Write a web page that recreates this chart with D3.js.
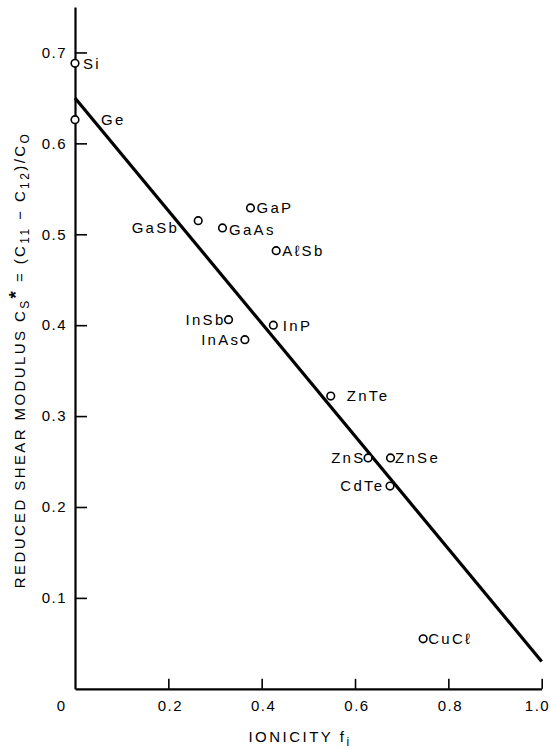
<!DOCTYPE html>
<html>
<head>
<meta charset="utf-8">
<script src="https://cdn.jsdelivr.net/npm/d3@7"></script>
<style>
  html, body { margin: 0; padding: 0; background: #fff; }
  svg { display: block; }
  text { font-family: "Liberation Sans", Arial, sans-serif; fill: #000; }
</style>
</head>
<body>
<div id="chart"></div>
<script>
// ---- data ----
const compounds = ["Si", "Ge", "GaSb", "GaAs", "GaP", "AℓSb", "InSb", "InAs", "InP", "ZnTe", "ZnS", "ZnSe", "CdTe", "CuCℓ"];
const ionicity  = [0.000, 0.000, 0.264, 0.316, 0.376, 0.431, 0.329, 0.364, 0.425, 0.548, 0.628, 0.676, 0.675, 0.746];
const shearMod  = [0.688, 0.626, 0.515, 0.507, 0.529, 0.482, 0.406, 0.384, 0.400, 0.322, 0.254, 0.254, 0.223, 0.055];
const fitX = [0.0, 1.0];
const fitY = [0.650, 0.030];
const xTicks = [0.2, 0.4, 0.6, 0.8, 1.0];
const xTickLabels = ["0.2", "0.4", "0.6", "0.8", "1.0"];
const yTicks = [0.1, 0.2, 0.3, 0.4, 0.5, 0.6, 0.7];
const yTickLabels = ["0.1", "0.2", "0.3", "0.4", "0.5", "0.6", "0.7"];

// ---- label layout (pixel offsets from marker, anchor) ----
const labelLayout = {
  "Si":   [8, 0, "start"],
  "Ge":   [26, 0, "start"],
  "GaSb": [-19, 7, "end"],
  "GaAs": [6.5, 2, "start"],
  "GaP":  [6, 0, "start"],
  "AℓSb": [6, 0, "start"],
  "InSb": [-3, 0, "end"],
  "InAs": [-4.5, 0, "end"],
  "InP":  [9.5, 0, "start"],
  "ZnTe": [16, 0, "start"],
  "ZnS":  [-2.5, 0, "end"],
  "ZnSe": [4.5, 0, "start"],
  "CdTe": [-5.5, 0, "end"],
  "CuCℓ": [5, 0, "start"]
};

const W = 551, H = 749;
const svg = d3.select("#chart").append("svg").attr("width", W).attr("height", H);

const x = d3.scaleLinear().domain([0, 1]).range([75, 541.7]);
const y = d3.scaleLinear().domain([0, 0.75]).range([688.8, 7]);

// x axis
const xAxis = d3.axisBottom(x)
  .tickValues(xTicks)
  .tickFormat((d, i) => xTickLabels[i])
  .tickSizeInner(-10)
  .tickSizeOuter(0)
  .tickPadding(12);
const gx = svg.append("g").attr("transform", `translate(0,${y(0)})`).call(xAxis);
gx.select(".domain").attr("stroke", "#000").attr("stroke-width", 2.2);
gx.selectAll(".tick line").attr("stroke", "#000").attr("stroke-width", 1.6);
gx.selectAll(".tick text")
  .attr("font-size", 15)
  .attr("letter-spacing", "1.5px")
  .attr("text-anchor", (d, i) => i === xTicks.length - 1 ? "end" : "middle")
  .attr("dx", (d, i) => i === xTicks.length - 1 ? "8" : "1.5");

// origin label
svg.append("text")
  .attr("x", x(0) - 14).attr("y", y(0) + 17)
  .attr("dy", "0.36em")
  .attr("text-anchor", "middle")
  .attr("font-size", 15)
  .text("0");

// y axis
const yAxis = d3.axisLeft(y)
  .tickValues(yTicks)
  .tickFormat((d, i) => yTickLabels[i])
  .tickSizeInner(-12)
  .tickSizeOuter(0)
  .tickPadding(8);
const gy = svg.append("g").attr("transform", `translate(${x(0)},0)`).call(yAxis);
gy.select(".domain").attr("stroke", "#000").attr("stroke-width", 2.2);
gy.selectAll(".tick line").attr("stroke", "#000").attr("stroke-width", 1.6);
gy.selectAll(".tick text").attr("font-size", 15).attr("letter-spacing", "1.5px");
gx.selectAll("text").attr("fill", "#000");
gy.selectAll("text").attr("fill", "#000");

// fit line
const lineGen = d3.line().x(d => x(d[0])).y(d => y(d[1]));
svg.append("path")
  .datum(fitX.map((v, i) => [v, fitY[i]]))
  .attr("d", lineGen)
  .attr("fill", "none")
  .attr("stroke", "#000")
  .attr("stroke-width", 3.2);

// points
const pts = compounds.map((c, i) => ({ name: c, fi: ionicity[i], cs: shearMod[i] }));
svg.append("g").selectAll("circle").data(pts).join("circle")
  .attr("cx", d => x(d.fi))
  .attr("cy", d => y(d.cs))
  .attr("r", 3.8)
  .attr("fill", "#fff")
  .attr("stroke", "#000")
  .attr("stroke-width", 1.6);

svg.append("g").selectAll("text").data(pts).join("text")
  .attr("x", d => x(d.fi) + labelLayout[d.name][0])
  .attr("y", d => y(d.cs) + labelLayout[d.name][1])
  .attr("dy", "0.36em")
  .attr("text-anchor", d => labelLayout[d.name][2])
  .attr("font-size", 15)
  .attr("letter-spacing", "2.3px")
  .text(d => d.name);

// x title
const xt = svg.append("text")
  .attr("x", 300).attr("y", 742)
  .attr("text-anchor", "middle")
  .attr("font-size", 15)
  .attr("letter-spacing", "2.5px");
xt.append("tspan").text("IONICITY f");
xt.append("tspan").attr("font-size", 12).attr("dy", 4).text("i");

// y title
const yt = svg.append("text")
  .attr("transform", `translate(25,360) rotate(-90)`)
  .attr("text-anchor", "middle")
  .attr("font-size", 15)
  .attr("letter-spacing", "2.4px");
yt.append("tspan").text("REDUCED SHEAR MODULUS C");
yt.append("tspan").attr("font-size", 12).attr("dy", 4).text("S");
yt.append("tspan").attr("font-size", 19).attr("dy", -7).attr("font-weight", "bold").text("*");
yt.append("tspan").attr("dy", 3).text(" = (C");
yt.append("tspan").attr("font-size", 12).attr("dy", 4).text("11");
yt.append("tspan").attr("dy", -4).text(" − C");
yt.append("tspan").attr("font-size", 12).attr("dy", 4).text("12");
yt.append("tspan").attr("dy", -4).text(")/C");
yt.append("tspan").attr("font-size", 12).attr("dy", 4).text("O");
</script>
</body>
</html>
